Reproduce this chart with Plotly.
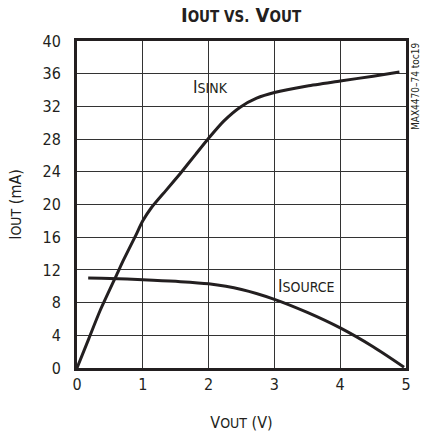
import plotly.graph_objects as go

# ISINK curve
sink_v = [0.0, 0.18, 0.35, 0.62, 0.70, 0.88, 1.0, 1.13, 1.35, 1.57, 1.8, 2.0, 2.23, 2.48, 2.73, 3.0, 3.5, 4.0, 4.5, 4.9]
sink_i = [0.0, 3.6, 7.0, 11.7, 13.1, 16.0, 18.0, 19.6, 21.7, 23.8, 26.1, 28.1, 30.2, 31.9, 33.0, 33.7, 34.5, 35.1, 35.7, 36.2]

# ISOURCE curve
source_v = [0.17, 0.5, 1.0, 1.5, 2.0, 2.5, 3.0, 3.5, 4.0, 4.5, 4.97]
source_i = [11.0, 10.95, 10.8, 10.6, 10.3, 9.6, 8.4, 6.8, 4.9, 2.6, 0.1]

x_ticks = [0, 1, 2, 3, 4, 5]
y_ticks = [0, 4, 8, 12, 16, 20, 24, 28, 32, 36, 40]

FONT = "DejaVu Sans Condensed, Liberation Sans Narrow, Liberation Sans, sans-serif"
INK = "#231f20"

fig = go.Figure()
fig.add_trace(go.Scatter(x=sink_v, y=sink_i, mode="lines",
                         line=dict(color=INK, width=3, shape="spline", smoothing=0.6),
                         showlegend=False, hoverinfo="skip"))
fig.add_trace(go.Scatter(x=source_v, y=source_i, mode="lines",
                         line=dict(color=INK, width=3, shape="spline", smoothing=0.8),
                         showlegend=False, hoverinfo="skip"))

fig.add_annotation(x=2.03, y=34.4, xref="x", yref="y", showarrow=False,
                   text="I<span style='font-size:14px'>SINK</span>",
                   font=dict(family=FONT, size=17, color=INK))
fig.add_annotation(x=3.48, y=10.0, xref="x", yref="y", showarrow=False,
                   text="I<span style='font-size:14px'>SOURCE</span>",
                   font=dict(family=FONT, size=17, color=INK))
fig.add_annotation(x=1.0, y=1.0, xref="paper", yref="paper", xshift=2,
                   xanchor="left", yanchor="top", showarrow=False, textangle=-90,
                   text="MAX4470–74 toc19",
                   font=dict(family=FONT, size=10, color=INK))

fig.update_layout(
    width=421, height=434,
    margin=dict(l=77, r=15, t=41, b=66),
    paper_bgcolor="white", plot_bgcolor="white",
    font=dict(family=FONT, size=16, color=INK),
    title=dict(text="<b>I<span style='font-size:15px'>OUT VS.</span> V<span style='font-size:15px'>OUT</span></b>",
               x=0.5725, xanchor="center", y=0.965, yanchor="middle",
               font=dict(family=FONT, size=20, color=INK)),
    xaxis=dict(range=[0, 5], tickvals=x_ticks, ticks="", showgrid=True,
               gridcolor="#333333", gridwidth=1, showline=True, linecolor=INK,
               linewidth=3, mirror=True, zeroline=False, automargin=False,
               title=dict(text="V<span style='font-size:14px'>OUT</span> (V)", standoff=24,
                          font=dict(family=FONT, size=16, color=INK)),
               tickfont=dict(family=FONT, size=16, color=INK)),
    yaxis=dict(range=[0, 40], tickvals=y_ticks, ticks="", showgrid=True,
               gridcolor="#333333", gridwidth=1, showline=True, linecolor=INK,
               linewidth=3, mirror=True, zeroline=False, ticklabelstandoff=10,
               automargin=False,
               title=dict(text="I<span style='font-size:14px'>OUT</span> (mA)", standoff=17,
                          font=dict(family=FONT, size=16, color=INK)),
               tickfont=dict(family=FONT, size=16, color=INK)),
)

fig.write_html("out.html", config={"displayModeBar": False},
               post_script="document.body.style.margin='0';document.body.style.overflow='hidden';")
